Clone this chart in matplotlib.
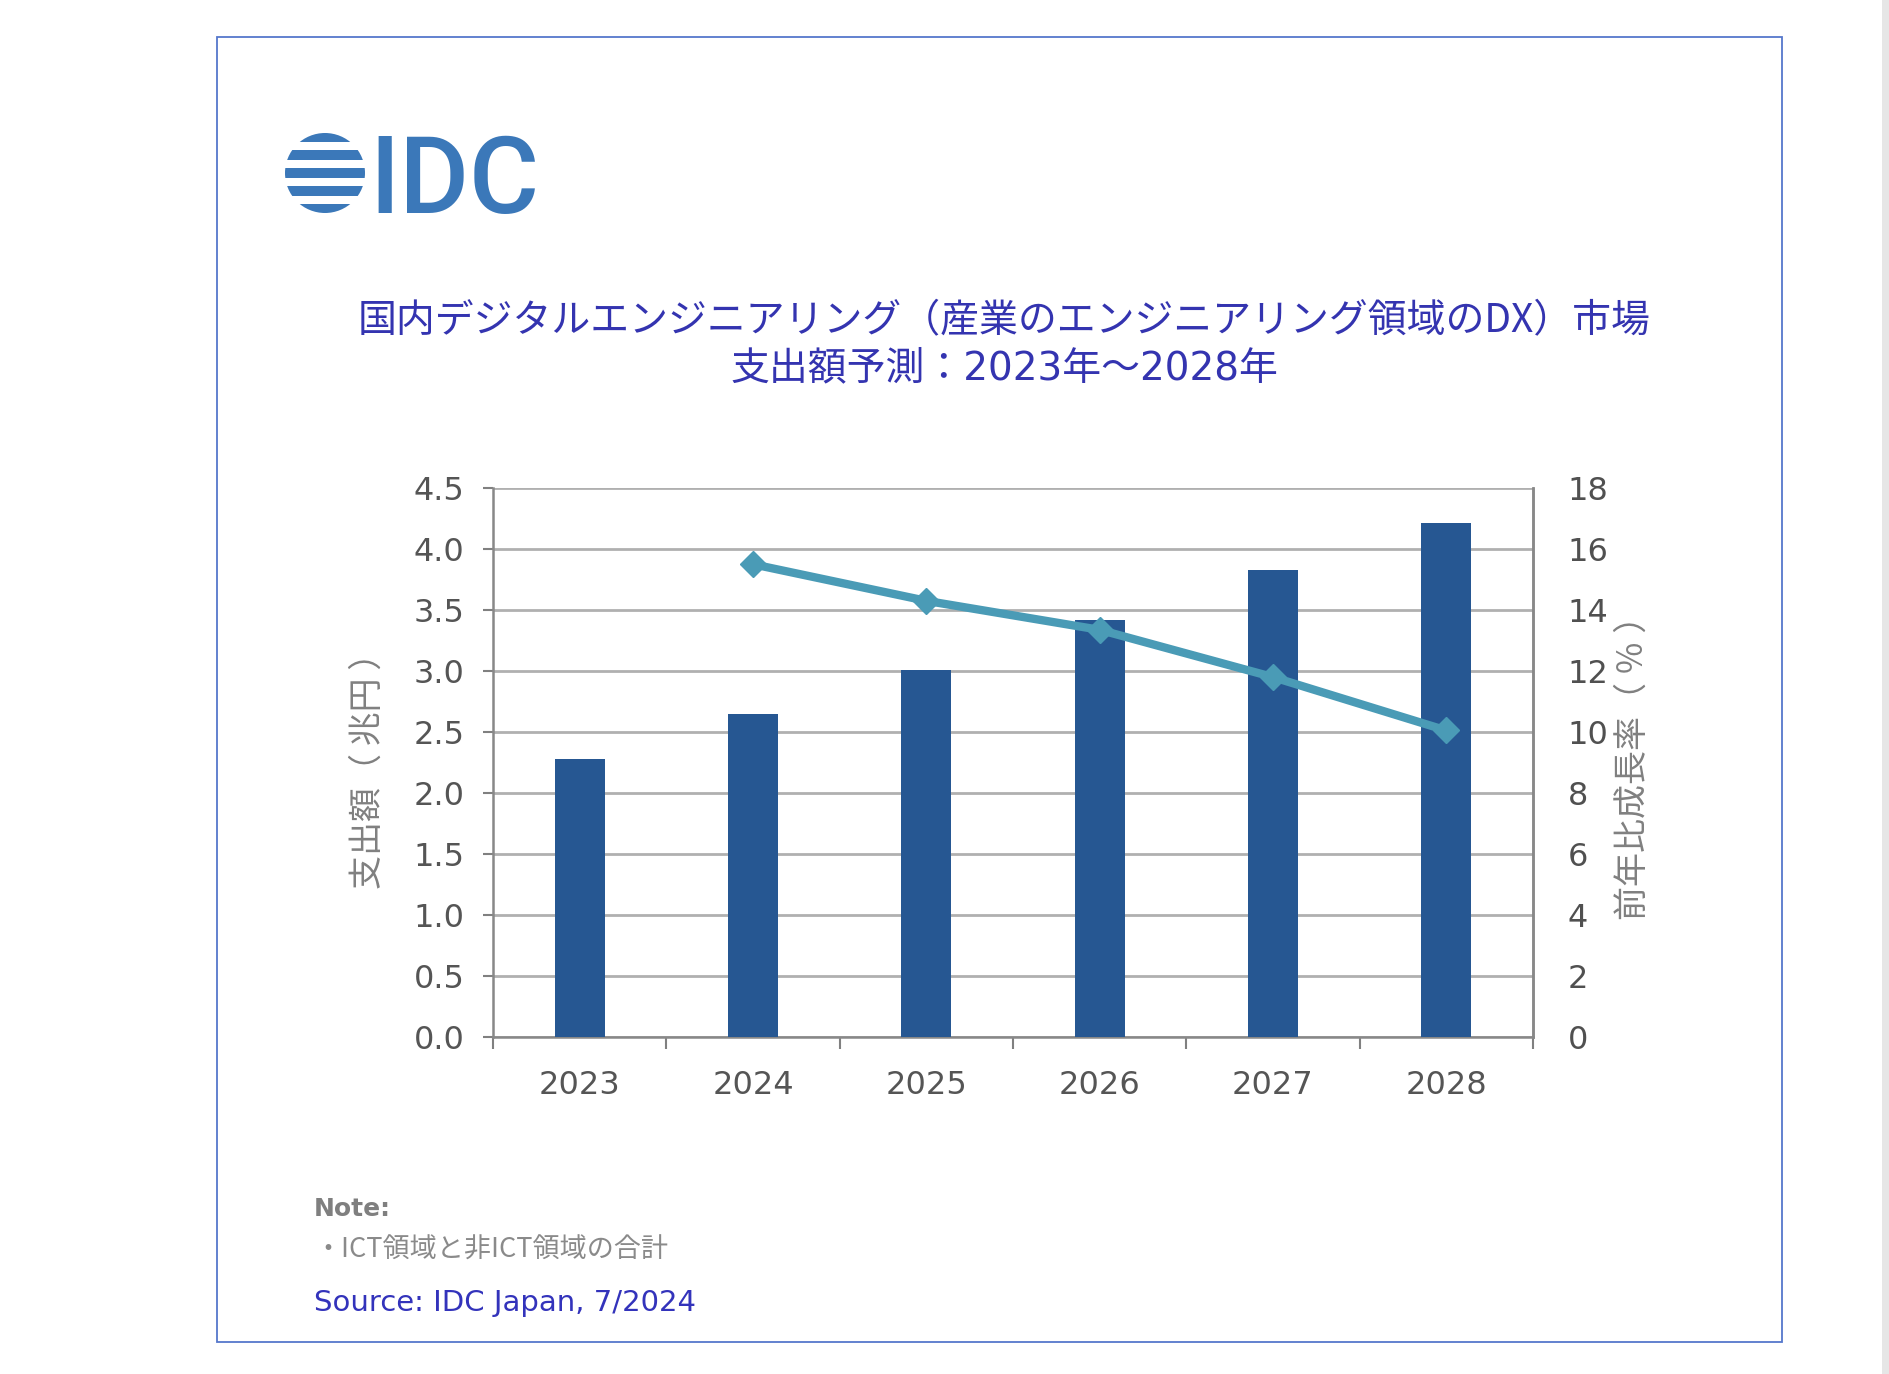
import matplotlib
matplotlib.use("Agg")
import matplotlib.pyplot as plt
from matplotlib.patches import Rectangle, Circle

# ---------------- data ----------------
years = ["2023", "2024", "2025", "2026", "2027", "2028"]
spending = [2.28, 2.645, 3.005, 3.42, 3.83, 4.21]          # 兆円
growth_years = ["2024", "2025", "2026", "2027", "2028"]
growth = [15.5, 14.3, 13.35, 11.8, 10.05]                   # %
left_ticks = [0.0, 0.5, 1.0, 1.5, 2.0, 2.5, 3.0, 3.5, 4.0, 4.5]
right_ticks = [0, 2, 4, 6, 8, 10, 12, 14, 16, 18]

title_line1 = "国内デジタルエンジニアリング（産業のエンジニアリング領域のDX）市場"
title_line2 = "支出額予測：2023年～2028年"
ylabel_left = "支出額（ 兆円 ）"
ylabel_right = "前年比成長率（ ％ ）"
note_head = "Note:"
note_body = "・ICT領域と非ICT領域の合計"
source_text = "Source: IDC Japan, 7/2024"

CJK = ["Noto Sans CJK JP", "DejaVu Sans"]
plt.rcParams["font.family"] = ["DejaVu Sans", "Noto Sans CJK JP"]

W, H = 1890, 1374
fig = plt.figure(figsize=(W / 100, H / 100), dpi=100)
fig.patch.set_facecolor("white")

# background overlay axes in pixel coordinates (frame + logo)
bg = fig.add_axes([0, 0, 1, 1], zorder=-5)
bg.set_xlim(0, W)
bg.set_ylim(H, 0)
bg.axis("off")
bg.add_patch(Rectangle((217, 37), 1782 - 217, 1342 - 37, fill=False,
                       edgecolor="#5577cc", linewidth=1.3))
bg.add_patch(Rectangle((1882, 0), 8, H, facecolor="#e6e6e6", edgecolor="none"))

# IDC logo globe
logo_blue = "#3b78b9"
gc = Circle((325, 173), 40, transform=bg.transData)
for yc in [137, 155, 173, 191, 209]:
    r = Rectangle((280, yc - 5), 90, 10, facecolor=logo_blue, edgecolor="none")
    bg.add_patch(r)
    r.set_clip_path(gc)
fig.text(369 / W, 1 - 213 / H, "IDC", color=logo_blue, fontsize=77,
         family="Roboto", fontweight="medium", ha="left", va="baseline")

# title
fig.text(1004 / W, 1 - 321 / H, title_line1, color="#3434b0", fontsize=28,
         family=CJK, ha="center", va="center")
fig.text(1004 / W, 1 - 368 / H, title_line2, color="#3434b0", fontsize=28,
         family=["DejaVu Sans", "Noto Sans CJK JP"], ha="center", va="center")

# main axes
ax = fig.add_axes([493 / W, 1 - 1037 / H, (1533 - 493) / W, (1037 - 488) / H])
x = list(range(len(years)))
ax.bar(x, spending, width=0.29, color="#265792", zorder=3)
ax.set_xlim(-0.5, len(years) - 0.5)
ax.set_ylim(0, 4.5)
ax.set_yticks(left_ticks)
ax.set_yticklabels([f"{v:.1f}" for v in left_ticks])
ax.yaxis.grid(True, color="#b0b0b0", linewidth=2.0, zorder=0)
ax.set_axisbelow(True)

ax.set_xticks(x)
ax.set_xticklabels(years)
ax.set_xticks([i - 0.5 for i in range(len(years) + 1)], minor=True)
ax.tick_params(axis="x", which="major", length=0, pad=24, labelsize=23,
               labelcolor="#555555")
ax.tick_params(axis="x", which="minor", length=8.5, width=1.5, color="#808080",
               direction="out")
ax.tick_params(axis="y", length=7.5, width=1.5, color="#808080", pad=13,
               labelsize=23, labelcolor="#555555")

ax.spines["top"].set_visible(False)
for s in ["left", "bottom", "right"]:
    ax.spines[s].set_color("#888888")
    ax.spines[s].set_linewidth(1.8)

ax.set_ylabel(ylabel_left, family=CJK, fontsize=24.5, color="#808080")
ax.yaxis.set_label_coords(-0.103, 0.5)

# secondary axis
ax2 = ax.twinx()
ax2.set_ylim(0, 18)
ax2.set_yticks(right_ticks)
gx = [years.index(y) for y in growth_years]
ax2.plot(gx, growth, color="#4a9bb6", linewidth=6, marker="D", markersize=13,
         zorder=4)
ax2.tick_params(axis="y", length=0, pad=25, labelsize=23, labelcolor="#505050")
for s in ["top", "left", "bottom"]:
    ax2.spines[s].set_visible(False)
ax2.spines["right"].set_color("#888888")
ax2.spines["right"].set_linewidth(1.8)
ax2.set_ylabel(ylabel_right, family=CJK, fontsize=24.5, color="#808080")
ax2.yaxis.set_label_coords(1.08, 0.505)

# notes
fig.text(314 / W, 1 - 1209 / H, note_head, color="#7f7f7f", fontsize=18,
         fontweight="bold", ha="left", va="center")
fig.text(314 / W, 1 - 1250 / H, note_body, color="#8a8a8a", fontsize=19.5,
         family=CJK, ha="left", va="center")
fig.text(314 / W, 1 - 1303 / H, source_text, color="#3333bb", fontsize=21,
         family="DejaVu Sans", ha="left", va="center")

fig.savefig("out.png", dpi=100)
